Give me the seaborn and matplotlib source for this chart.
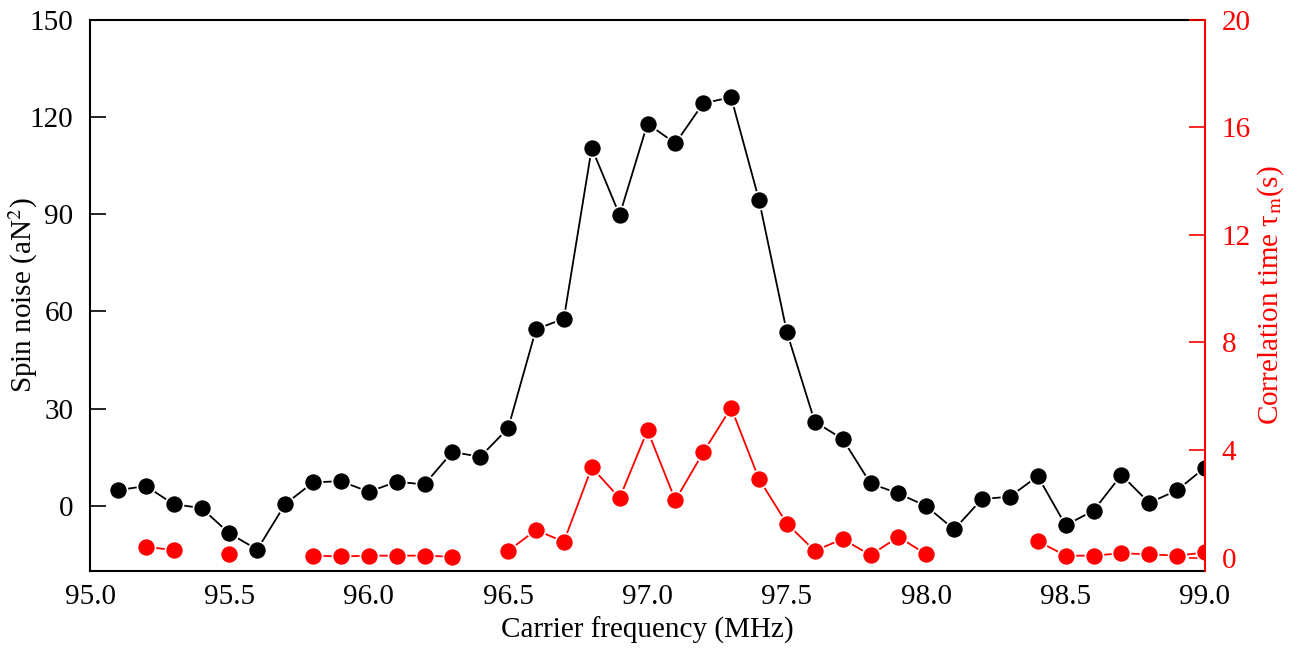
import numpy as np
import pandas as pd
import matplotlib
matplotlib.use("Agg")
import matplotlib.pyplot as plt
import seaborn as sns

# ---- data ----
freq = [95.1, 95.2, 95.3, 95.4, 95.5, 95.6, 95.7, 95.8, 95.9, 96.0,
        96.1, 96.2, 96.3, 96.4, 96.5, 96.6, 96.7, 96.8, 96.9, 97.0,
        97.1, 97.2, 97.3, 97.4, 97.5, 97.6, 97.7, 97.8, 97.9, 98.0,
        98.1, 98.2, 98.3, 98.4, 98.5, 98.6, 98.7, 98.8, 98.9, 99.0]
spin_noise = [4.9, 6.2, 0.6, -0.6, -8.4, -13.4, 0.6, 7.3, 7.7, 4.4,
              7.5, 6.7, 16.7, 15.2, 24.0, 54.5, 57.8, 110.4, 89.7, 117.9,
              111.8, 124.2, 126.0, 94.4, 53.6, 26.0, 20.7, 7.0, 3.9, 0.0,
              -7.2, 2.2, 2.9, 9.25, -5.9, -1.4, 9.6, 1.0, 4.9, 11.9]
corr_time = [np.nan, 0.40, 0.28, np.nan, 0.12, np.nan, np.nan, 0.07, 0.04, 0.07,
             0.07, 0.07, 0.03, np.nan, 0.25, 1.02, 0.59, 3.35, 2.21, 4.73,
             2.13, 3.91, 5.57, 2.92, 1.26, 0.25, 0.69, 0.09, 0.77, 0.12,
             np.nan, np.nan, np.nan, 0.61, 0.07, 0.07, 0.16, 0.12, 0.07, 0.19]
x_ticks = [95.0, 95.5, 96.0, 96.5, 97.0, 97.5, 98.0, 98.5, 99.0]
left_ticks = [0, 30, 60, 90, 120, 150]
right_ticks = [0, 4, 8, 12, 16, 20]

# ---- frames ----
df_black = pd.DataFrame({"freq": freq, "val": spin_noise})
ct = np.array(corr_time, dtype=float)
seg = np.cumsum(np.isnan(ct))
df_red = pd.DataFrame({"freq": freq, "val": ct, "seg": seg}).dropna()

sns.set_theme(style="white")
plt.rcParams["font.family"] = ["Liberation Serif", "DejaVu Serif"]
plt.rcParams["mathtext.fontset"] = "stix"
plt.rcParams["text.color"] = "black"
plt.rcParams["axes.labelcolor"] = "black"

fig = plt.figure(figsize=(13.01, 6.5), dpi=100)
ax1 = fig.add_axes([90 / 1301, 79 / 650, (1205 - 90) / 1301, (571 - 19.5) / 650])
ax2 = ax1.twinx()

mk = dict(marker="o", markersize=13, markeredgecolor="white", markeredgewidth=1.2,
          linewidth=1.3)
sns.lineplot(data=df_black, x="freq", y="val", ax=ax1, color="black", **mk)
sns.lineplot(data=df_red, x="freq", y="val", units="seg", estimator=None, ax=ax2,
             color="red", **mk)

ax1.set_xlim(95.0, 99.0)
ax1.set_ylim(-20, 150)
ax2.set_ylim(-0.5, 20)
ax1.set_xticks(x_ticks)
ax1.set_xticklabels([f"{t:.1f}" for t in x_ticks])
ax1.set_yticks(left_ticks)
ax2.set_yticks(right_ticks)

fs = 21
ax1.tick_params(axis="both", direction="in", length=11.5, width=1.2, labelsize=fs,
                colors="black")
ax1.tick_params(axis="x", pad=9)
ax1.tick_params(axis="y", pad=12)
ax2.tick_params(axis="y", direction="in", length=11.5, width=1.2, labelsize=fs,
                colors="red", pad=12)

for sp in ["left", "bottom", "top"]:
    ax1.spines[sp].set_color("black")
    ax1.spines[sp].set_linewidth(1.5)
    ax2.spines[sp].set_visible(False)
ax1.spines["right"].set_visible(False)
ax2.spines["right"].set_color("red")
ax2.spines["right"].set_linewidth(1.5)

ax1.set_xlabel("Carrier frequency (MHz)", fontsize=fs, labelpad=5)
ax1.set_ylabel(r"Spin noise (aN$^2$)", fontsize=fs)
ax1.yaxis.set_label_coords(-0.045, 0.5)
ax2.set_ylabel(r"Correlation time τ$_{\rm m}$(s)", fontsize=fs, color="red",
               labelpad=3)
ax1.grid(False)
ax2.grid(False)

fig.savefig("out.png", dpi=100)
